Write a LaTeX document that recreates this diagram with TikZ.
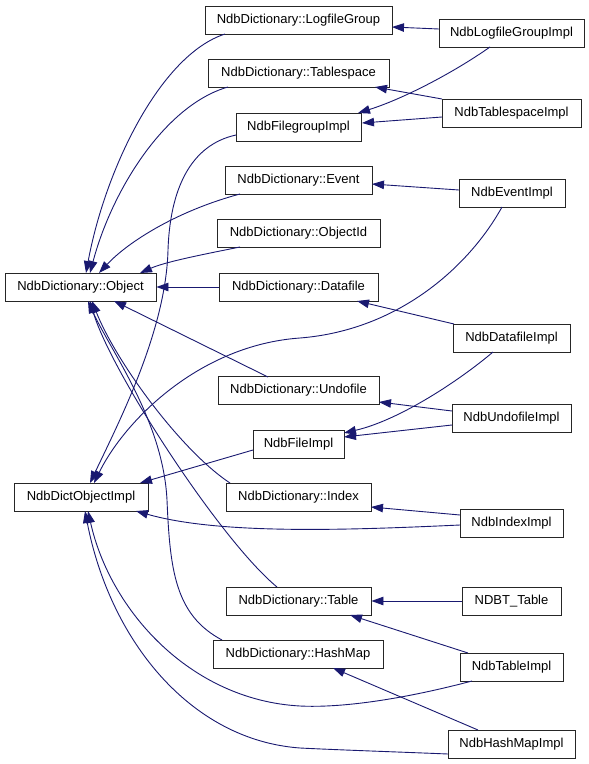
\documentclass[tikz,border=0pt]{standalone}
\usepackage{fontspec}
\setmainfont{Liberation Sans}
\usetikzlibrary{arrows.meta}
\definecolor{navy}{HTML}{191970}
\begin{document}
\begin{tikzpicture}[x=1pt,y=-1pt,
  cls/.style={draw=black!85, line width=0.9pt, minimum height=28pt, inner sep=0pt,
    font=\fontsize{13}{15}\selectfont, fill=white},
  edge/.style={draw=navy, line width=0.9pt, -{Triangle[length=12pt,width=8.5pt]}}]
\useasboundingbox (0,0) rectangle (589,764);
% left column
\node[cls, minimum width=151pt] (obj) at (80.5,287) {NdbDictionary::Object};
\node[cls, minimum width=134pt] (dobj) at (81,497) {NdbDictObjectImpl};
% middle column
\node[cls, minimum width=187pt] (lfg) at (298.5,20) {NdbDictionary::LogfileGroup};
\node[cls, minimum width=181pt] (ts) at (298.5,73) {NdbDictionary::Tablespace};
\node[cls, minimum width=125pt] (fgi) at (298.5,127) {NdbFilegroupImpl};
\node[cls, minimum width=147pt] (ev) at (298.5,180) {NdbDictionary::Event};
\node[cls, minimum width=163pt] (oid) at (298.5,233) {NdbDictionary::ObjectId};
\node[cls, minimum width=159pt] (df) at (298.5,287) {NdbDictionary::Datafile};
\node[cls, minimum width=161pt] (uf) at (298.5,390.5) {NdbDictionary::Undofile};
\node[cls, minimum width=91pt] (fi) at (298.5,444) {NdbFileImpl};
\node[cls, minimum width=145pt] (idx) at (298.5,497) {NdbDictionary::Index};
\node[cls, minimum width=145pt] (tbl) at (298.5,601) {NdbDictionary::Table};
\node[cls, minimum width=170pt] (hm) at (298,654) {NdbDictionary::HashMap};
% right column
\node[cls, minimum width=145pt] (lfgi) at (511.5,33) {NdbLogfileGroupImpl};
\node[cls, minimum width=139pt] (tsi) at (511.5,113) {NdbTablespaceImpl};
\node[cls, minimum width=106pt] (evi) at (512,193) {NdbEventImpl};
\node[cls, minimum width=117pt] (dfi) at (511.5,338) {NdbDatafileImpl};
\node[cls, minimum width=119pt] (ufi) at (511.5,418) {NdbUndofileImpl};
\node[cls, minimum width=103pt] (idxi) at (511.5,523) {NdbIndexImpl};
\node[cls, minimum width=99pt] (ndbt) at (511.5,601) {NDBT\_Table};
\node[cls, minimum width=103pt] (tbli) at (511.5,667) {NdbTableImpl};
\node[cls, minimum width=127pt] (hmi) at (511.5,744) {NdbHashMapImpl};

% edges into NdbDictionary::Object
\draw[edge] ([shift={(-73.5,14)}]lfg.center) .. controls (160,55) and (105,170) .. ([shift={(5.5,-14)}]obj.center);
\draw[edge] ([shift={(-70.5,14)}]ts.center) .. controls (165,105) and (112,190) .. ([shift={(9.5,-14)}]obj.center);
\draw[edge] ([shift={(-58.5,14)}]ev.center) .. controls (180,210) and (130,240) .. ([shift={(18.5,-14)}]obj.center);
\draw[edge] ([shift={(-58.5,14)}]oid.center) .. controls (200,255) and (165,262) .. ([shift={(59.5,-14)}]obj.center);
\draw[edge] (df.west) -- (obj.east);
\draw[edge] ([shift={(-30.5,-13.5)}]uf.center) -- ([shift={(33.5,14)}]obj.center);
\draw[edge] ([shift={(-68.5,-14)}]idx.center) .. controls (180,450) and (115,360) .. ([shift={(11.5,14)}]obj.center);
\draw[edge] ([shift={(-21.5,-14)}]tbl.center) .. controls (220,540) and (110,370) .. ([shift={(9.5,14)}]obj.center);
\draw[edge] ([shift={(-76,-14)}]hm.center) .. controls (175,615) and (170,570) .. (167,500) .. controls (163,420) and (110,350) .. ([shift={(7.5,14)}]obj.center);

% edges into NdbDictObjectImpl
\draw[edge] ([shift={(-62.5,8)}]fgi.center) .. controls (190,145) and (170,190) .. (168,250) .. controls (166,330) and (120,420) .. ([shift={(9,-14)}]dobj.center);
\draw[edge] ([shift={(-10,14)}]evi.center) .. controls (470,265) and (400,330) .. (300,338) .. controls (200,345) and (125,420) .. ([shift={(13,-14)}]dobj.center);
\draw[edge] ([shift={(-45.5,6)}]fi.center) -- ([shift={(59,-14)}]dobj.center);
\draw[edge] ([shift={(-51.5,2)}]idxi.center) .. controls (350,530) and (220,535) .. ([shift={(55,14)}]dobj.center);
\draw[edge] ([shift={(-39.5,14)}]tbli.center) .. controls (400,700) and (340,708) .. (300,706) .. controls (190,700) and (110,610) .. ([shift={(7,14)}]dobj.center);
\draw[edge] ([shift={(-63.5,10)}]hmi.center) .. controls (400,752) and (340,750) .. (300,748) .. controls (190,740) and (110,640) .. ([shift={(4,14)}]dobj.center);

% right-side edges
\draw[edge] ([shift={(-72.5,-4)}]lfgi.center) -- ([shift={(93.5,7)}]lfg.center);
\draw[edge] ([shift={(-21.5,14)}]lfgi.center) .. controls (450,75) and (400,100) .. ([shift={(59.5,-14)}]fgi.center);
\draw[edge] ([shift={(-69.5,-14)}]tsi.center) -- ([shift={(76.5,14)}]ts.center);
\draw[edge] ([shift={(-69.5,4)}]tsi.center) -- ([shift={(63.5,-4)}]fgi.center);
\draw[edge] ([shift={(-53,-3)}]evi.center) -- ([shift={(73.5,4)}]ev.center);
\draw[edge] ([shift={(-57.5,-14)}]dfi.center) -- ([shift={(58.5,14)}]df.center);
\draw[edge] ([shift={(-18.5,14)}]dfi.center) .. controls (460,380) and (400,420) .. ([shift={(45.5,-11)}]fi.center);
\draw[edge] ([shift={(-59.5,-7)}]ufi.center) -- ([shift={(80.5,11.5)}]uf.center);
\draw[edge] ([shift={(-59.5,7)}]ufi.center) -- ([shift={(45.5,-7)}]fi.center);
\draw[edge] ([shift={(-51.5,-8)}]idxi.center) -- ([shift={(72.5,10)}]idx.center);
\draw[edge] (ndbt.west) -- (tbl.east);
\draw[edge] ([shift={(-43.5,-14)}]tbli.center) -- ([shift={(51.5,14)}]tbl.center);
\draw[edge] ([shift={(-33.5,-14)}]hmi.center) -- ([shift={(35,14)}]hm.center);
\end{tikzpicture}
\end{document}
